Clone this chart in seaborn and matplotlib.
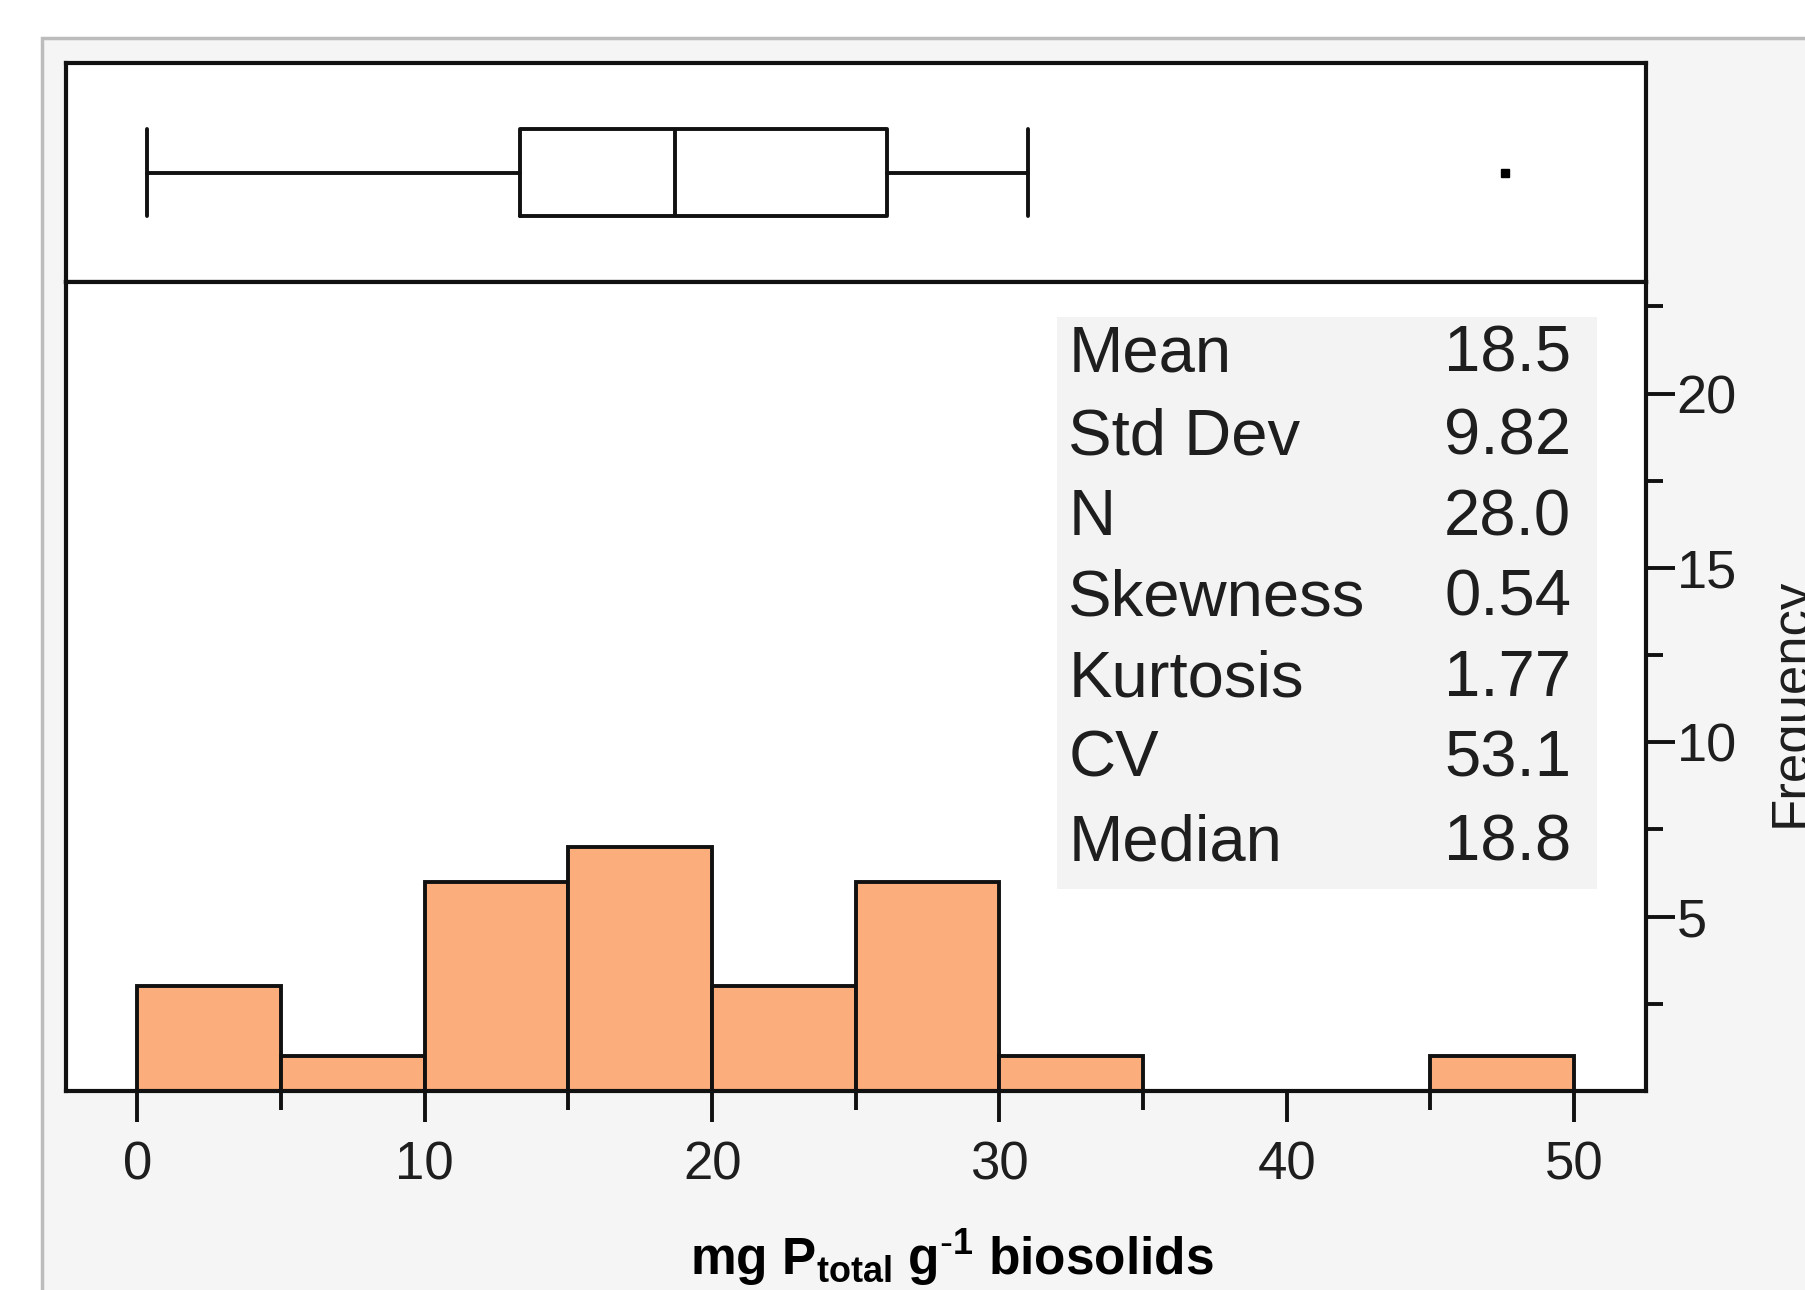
import matplotlib
matplotlib.use("Agg")
import matplotlib.pyplot as plt
from matplotlib import font_manager
import seaborn as sns
import numpy as np
import pandas as pd
from matplotlib.patches import Rectangle

# ---- data ----
bin_edges = [0, 5, 10, 15, 20, 25, 30, 35, 40, 45, 50]
bin_counts = [3, 1, 6, 7, 3, 6, 1, 0, 0, 1]
box_whislo = 0.35
box_q1 = 13.3
box_med = 18.7
box_q3 = 26.1
box_whishi = 31.0
box_fliers = [47.6]
stat_names = ["Mean", "Std Dev", "N", "Skewness", "Kurtosis", "CV", "Median"]
stat_values = ["18.5", "9.82", "28.0", "0.54", "1.77", "53.1", "18.8"]
x_major = [0, 10, 20, 30, 40, 50]
x_minor = [5, 15, 25, 35, 45]
y_major = [5, 10, 15, 20]
y_minor = [2.5, 7.5, 12.5, 17.5, 22.5]

sns.set_theme(style="white")
plt.rcParams['font.family'] = ['Liberation Sans', 'DejaVu Sans']
plt.rcParams['mathtext.default'] = 'regular'

installed = {f.name for f in font_manager.fontManager.ttflist}
if 'Liberation Sans Narrow' in installed:
    xl_family = ['Liberation Sans Narrow', 'Liberation Sans']
    xl_size = 42
else:
    xl_family = ['Liberation Sans', 'DejaVu Sans']
    xl_size = 37

W, H = 1805, 1290
fig = plt.figure(figsize=(W / 100, H / 100), dpi=100)
fig.patch.set_facecolor('white')

# outer light-gray panel with gray frame
fig.add_artist(Rectangle((42 / W, -0.05), 1.2, 1 - 38 / H + 0.05,
                         transform=fig.transFigure, facecolor='#f5f5f5',
                         edgecolor='#bcbcbc', lw=2.5, zorder=0))

left = 65.6 / W
right = 1646 / W
ax_box = fig.add_axes([left, 1 - 282 / H, right - left, (282 - 63.3) / H])
ax_hist = fig.add_axes([left, 1 - 1091 / H, right - left, (1091 - 282) / H])

ink = '#111111'
txt = '#1e1e1e'
LW = 2.8
for ax in (ax_box, ax_hist):
    ax.set_facecolor('white')
    for s in ax.spines.values():
        s.set_visible(True)
        s.set_color(ink)
        s.set_linewidth(3.0)

# ---- histogram ----
centers = [(a + b) / 2 for a, b in zip(bin_edges[:-1], bin_edges[1:])]
df = pd.DataFrame({'value': centers, 'count': bin_counts})
sns.histplot(data=df, x='value', weights='count', bins=bin_edges,
             color='#fbae7c', edgecolor=ink, linewidth=LW, alpha=1.0,
             ax=ax_hist)
ax_hist.set_xlim(-2.5, 52.5)
ax_hist.set_ylim(0, 23.2)
ax_hist.set_xlabel('')
ax_hist.set_ylabel('')
ax_hist.yaxis.tick_right()
ax_hist.set_xticks(x_major)
ax_hist.set_xticks(x_minor, minor=True)
ax_hist.set_yticks(y_major)
ax_hist.set_yticks(y_minor, minor=True)
ax_hist.tick_params(axis='x', which='major', direction='out', length=22, width=LW,
                    color=ink, labelsize=38, labelcolor=txt, pad=14, bottom=True)
ax_hist.tick_params(axis='x', which='minor', direction='out', length=14, width=LW,
                    color=ink, bottom=True)
ax_hist.tick_params(axis='y', which='major', direction='out', length=21, width=LW,
                    color=ink, labelsize=39, labelcolor=txt, pad=1,
                    right=True, left=False)
ax_hist.tick_params(axis='y', which='minor', direction='out', length=12, width=LW,
                    color=ink, right=True, left=False)

# stats box
ax_hist.add_patch(Rectangle((0.627, 0.250), 0.342, 0.707, transform=ax_hist.transAxes,
                            facecolor='#f3f3f3', edgecolor='none', zorder=3))
row_y = [0.910, 0.808, 0.708, 0.609, 0.509, 0.410, 0.306]
for name, val, yy in zip(stat_names, stat_values, row_y):
    ax_hist.text(0.6345, yy, name, transform=ax_hist.transAxes, ha='left',
                 va='center', fontsize=47, color=txt, zorder=4)
    ax_hist.text(0.9527, yy, val, transform=ax_hist.transAxes, ha='right',
                 va='center', fontsize=47, color=txt, zorder=4)

# ---- box plot ----
stats = [dict(whislo=box_whislo, q1=box_q1, med=box_med, q3=box_q3,
              whishi=box_whishi, fliers=box_fliers, label='')]
lp = dict(color=ink, linewidth=LW)
kw = dict(positions=[0], widths=0.395, showfliers=True,
          boxprops=lp, whiskerprops=lp, capprops=lp, medianprops=lp,
          flierprops=dict(marker='s', markersize=5.5, markerfacecolor='black',
                          markeredgecolor='black'))
try:
    ax_box.bxp(stats, orientation='horizontal', capwidths=0.395, **kw)
except TypeError:
    ax_box.bxp(stats, vert=False, capwidths=0.395, **kw)
ax_box.set_ylim(-0.5, 0.5)
ax_box.set_xlim(-2.5, 52.5)
ax_box.set_xticks([])
ax_box.set_yticks([])

# ---- labels ----
fig.text(1767 / W, 1 - 702 / H, 'Frequency', rotation=90, ha='left', va='center',
         fontsize=38, color=txt)
fig.text(952 / W, 1 - 1275 / H,
         r'mg P$_{total}$ g$^{\text{-}1}$ biosolids', family=xl_family,
         ha='center', va='baseline', fontsize=xl_size, fontweight='bold', color='black')

fig.savefig('out.png', dpi=100, facecolor=fig.get_facecolor())
